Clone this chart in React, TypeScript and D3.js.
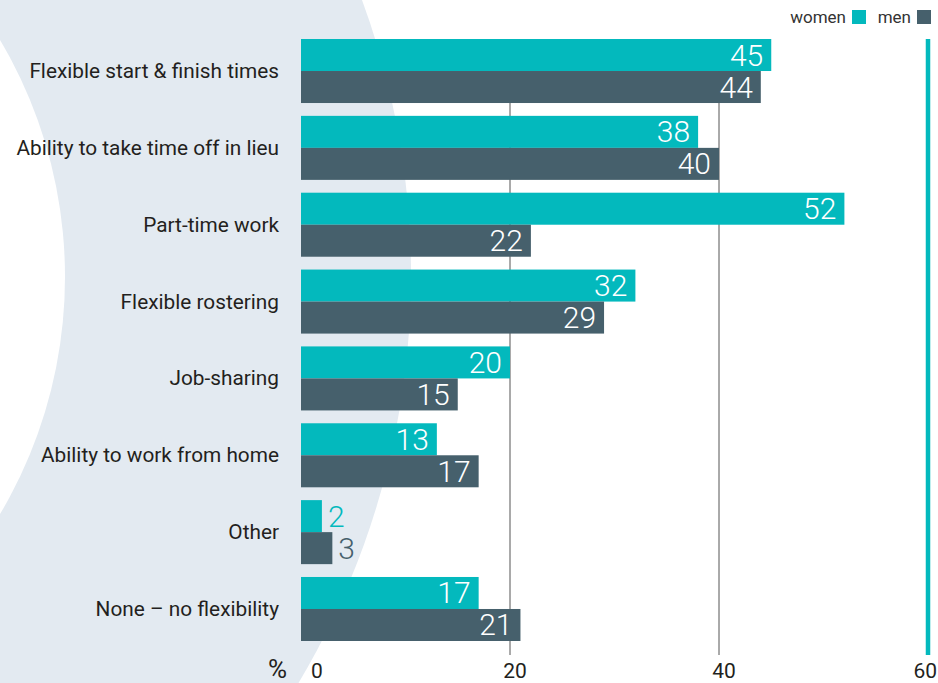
import React from "react";
import * as d3 from "d3";

const categories = [
  "Flexible start & finish times",
  "Ability to take time off in lieu",
  "Part-time work",
  "Flexible rostering",
  "Job-sharing",
  "Ability to work from home",
  "Other",
  "None – no flexibility",
];
const women = [45, 38, 52, 32, 20, 13, 2, 17];
const men = [44, 40, 22, 29, 15, 17, 3, 21];
const seriesNames = ["women", "men"];
const ticks = [0, 20, 40, 60];

const W = 938;
const H = 683;
const TEAL = "#03b9bd";
const SLATE = "#46606c";
const BG = "#e3eaf1";
const FONT = "Roboto, 'Open Sans', sans-serif";

export default function App() {
  const x = d3.scaleLinear().domain([0, 60]).range([301, 928]);
  const y = d3.scaleBand().domain(categories).range([39, 641]).paddingInner(0.167).paddingOuter(0);
  const sub = d3.scaleBand().domain(seriesNames).range([0, y.bandwidth()]);
  const color = d3.scaleOrdinal<string, string>().domain(seriesNames).range([TEAL, SLATE]);
  const bh = sub.bandwidth();

  const rows = categories.map((c, i) => ({ c, vals: [women[i], men[i]] }));

  return (
    <svg width={W} height={H} style={{ position: "absolute", left: 0, top: 0 }} fontFamily={FONT}>
      {/* background crescent */}
      <circle cx={-385} cy={275} r={796} fill={BG} />
      <circle cx={-400} cy={277} r={465} fill="#fff" />

      {/* grid lines */}
      {ticks.slice(1, 3).map((t) => (
        <line key={t} x1={x(t)} x2={x(t)} y1={39} y2={655} stroke="#555" strokeWidth={1} />
      ))}
      <line x1={x(60)} x2={x(60)} y1={39} y2={655} stroke={TEAL} strokeWidth={4.5} />

      {rows.map((r) => (
        <g key={r.c} transform={`translate(0,${y(r.c)})`}>
          <text x={279} y={y.bandwidth() / 2 + 7} textAnchor="end" fontSize={20.8} fill="#231f20">
            {r.c}
          </text>
          {r.vals.map((v, j) => {
            const s = seriesNames[j];
            const yy = sub(s)!;
            const small = v < 5;
            return (
              <g key={s}>
                <rect x={x(0)} y={yy} width={x(v) - x(0)} height={bh} fill={color(s)} />
                <text
                  x={small ? x(v) + 6 : x(v) - 8}
                  y={yy + bh / 2 + 10.5}
                  textAnchor={small ? "start" : "end"}
                  fontSize={30}
                  fontWeight={300}
                  fill={small ? color(s) : "#fff"}
                >
                  {v}
                </text>
              </g>
            );
          })}
        </g>
      ))}

      {/* axis labels */}
      <text x={287} y={678} textAnchor="end" fontSize={26} fill="#231f20">%</text>
      {ticks.map((t, i) => {
        const first = i === 0;
        const last = i === ticks.length - 1;
        return (
          <text
            key={t}
            x={first ? x(t) + 10 : last ? x(t) + 9 : x(t) + 5}
            y={678}
            textAnchor={first ? "start" : last ? "end" : "middle"}
            fontSize={21}
            fill="#231f20"
          >
            {t}
          </text>
        );
      })}

      {/* legend */}
      {seriesNames.map((s, i) => {
        const right = i === 0 ? 866 : 931;
        return (
          <g key={s}>
            <text x={right - 20} y={23} textAnchor="end" fontSize={17} fill="#333">
              {s}
            </text>
            <rect x={right - 14} y={10} width={14} height={14} fill={color(s)} />
          </g>
        );
      })}
    </svg>
  );
}
